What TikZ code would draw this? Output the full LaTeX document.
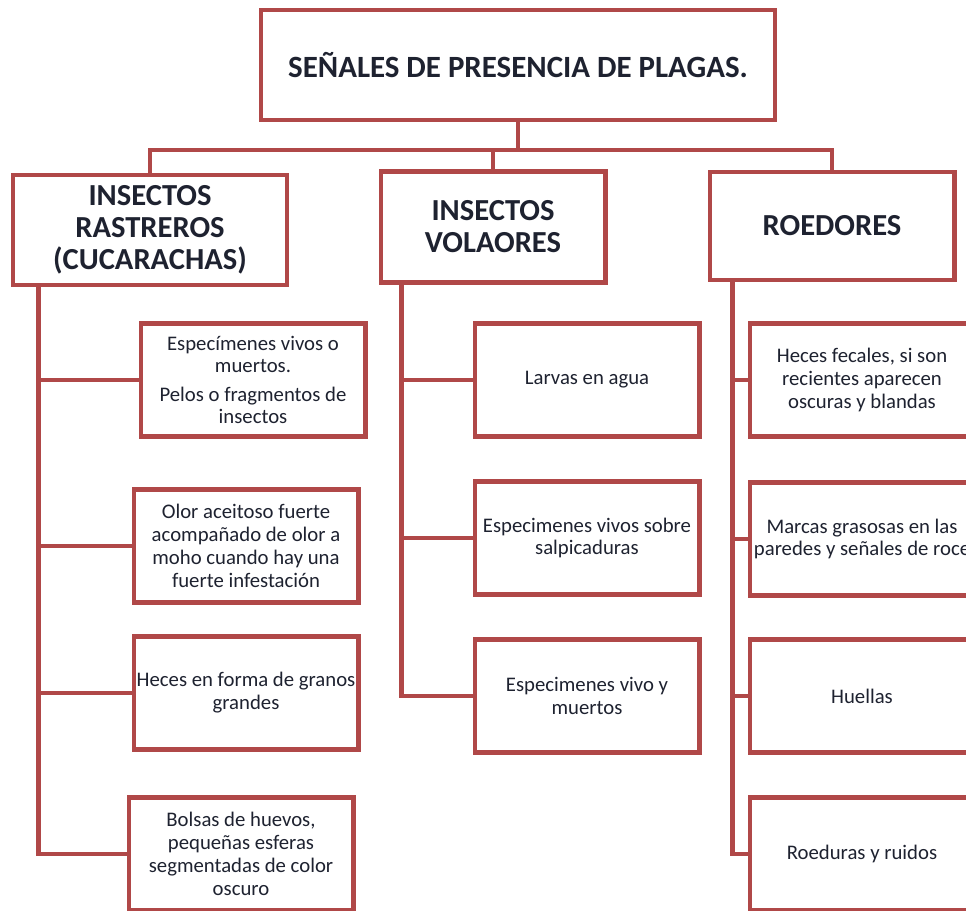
\documentclass[tikz,border=0pt]{standalone}
\usepackage{fontspec}
\setmainfont{Carlito}
\definecolor{ladrillo}{RGB}{176,72,72}
\definecolor{tinta}{RGB}{30,34,48}
\begin{document}
\begin{tikzpicture}[x=0.02cm,y=-0.02cm,
    caja/.style={draw=ladrillo,line width=2.3pt,fill=white,text=tinta,align=center,inner sep=1pt},
    titulo/.style={caja,font=\bfseries\fontsize{17.6}{20}\selectfont},
    cabeza/.style={caja,font=\bfseries\fontsize{17.4}{18.3}\selectfont},
    hoja/.style={caja,font=\fontsize{11.8}{13}\selectfont,minimum width=4.5cm,minimum height=2.26cm},
    enlace/.style={draw=ladrillo,line width=2.3pt}]
        \useasboundingbox (0,0) rectangle (966,911);
        \clip (0,0) rectangle (966,911);
        \fill[white] (0,0) rectangle (966,911);
        \node[titulo,minimum width=10.3cm,minimum height=2.2cm] (senales) at (518,65) {SEÑALES DE PRESENCIA DE PLAGAS.};
        \node[cabeza,minimum width=5.5cm,minimum height=2.2cm] (rastreros) at (150,230) {INSECTOS\\RASTREROS\\(CUCARACHAS)};
        \node[cabeza,minimum width=4.5cm,minimum height=2.22cm] (volaores) at (493,227) {INSECTOS\\VOLAORES};
        \node[cabeza,minimum width=4.9cm,minimum height=2.16cm] (roedores) at (832,226) {ROEDORES};
        \coordinate (barra) at (518,150);
        \draw[enlace] (senales.south) -- (barra);
        \draw[enlace] (barra) -| (rastreros.north);
        \draw[enlace] (barra) -| (volaores.north);
        \draw[enlace] (barra) -| (roedores.north);
        \node[hoja] (r1) at (253,380) {Especímenes vivos o\\muertos.\\[3pt]Pelos o fragmentos de\\insectos};
        \node[hoja] (r2) at (246,546) {Olor aceitoso fuerte\\acompañado de olor a\\moho cuando hay una\\fuerte infestación};
        \node[hoja] (r3) at (246,693) {Heces en forma de granos\\grandes};
        \node[hoja] (r4) at (241,854) {Bolsas de huevos,\\pequeñas esferas\\segmentadas de color\\oscuro};
        \node[hoja] (v1) at (587,380) {Larvas en agua};
        \node[hoja] (v2) at (587,538) {Especimenes vivos sobre\\salpicaduras};
        \node[hoja] (v3) at (587,696) {Especimenes vivo y\\muertos};
        \node[hoja] (d1) at (862,380) {Heces fecales, si son\\recientes aparecen\\oscuras y blandas};
        \node[hoja] (d2) at (862,539) {Marcas grasosas en las\\paredes y señales de roce};
        \node[hoja] (d3) at (862,696) {Huellas};
        \node[hoja] (d4) at (862,854) {Roeduras y ruidos};
        \coordinate (tr) at ([xshift=0.56cm]rastreros.south west);
        \coordinate (tv) at ([xshift=0.46cm]volaores.south west);
        \coordinate (td) at ([xshift=0.5cm]roedores.south west);
        \foreach \h in {r1,r2,r3,r4} \draw[enlace] (tr) |- (\h.west);
        \foreach \h in {v1,v2,v3} \draw[enlace] (tv) |- (\h.west);
        \foreach \h in {d1,d2,d3,d4} \draw[enlace] (td) |- (\h.west);
\end{tikzpicture}
\end{document}
